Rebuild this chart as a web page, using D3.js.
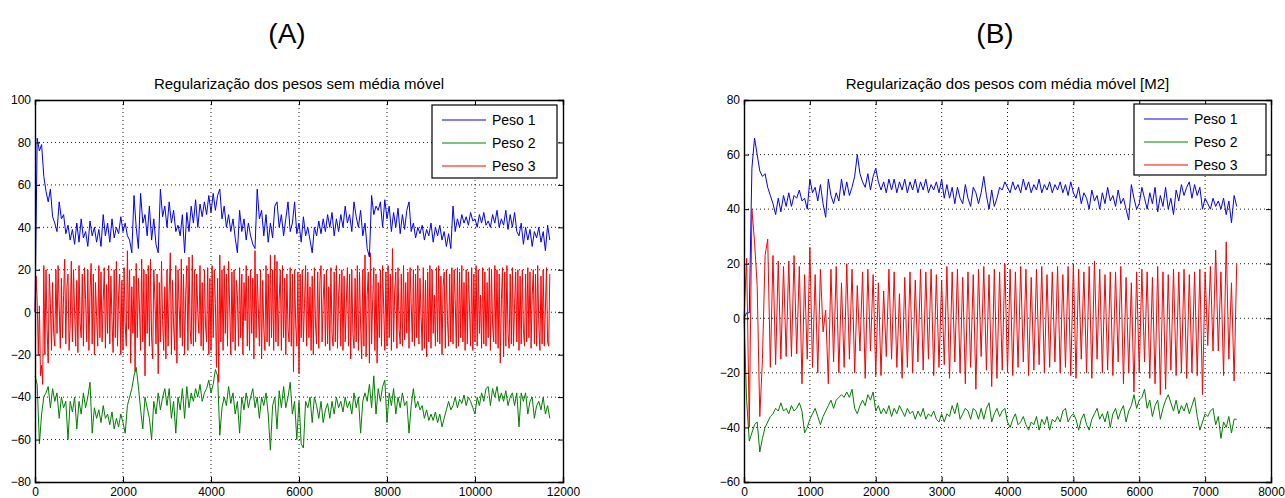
<!DOCTYPE html>
<html>
<head>
<meta charset="utf-8">
<script src="https://cdn.jsdelivr.net/npm/d3@7"></script>
<style>
  body { margin: 0; background: #fff; }
  svg { display: block; }
</style>
</head>
<body>
<svg id="chart" width="1285" height="498"></svg>
<script>
// sample spacing of the logged weights (iterations between samples)
const stepA = 50;
const stepA3 = 25;
const stepB = 40;

// Panel A: sem média móvel
const peso1A = [
  0, 82, 76, 79, 64, 57, 52, 58, 45, 42,
  38, 52, 44, 46, 37, 41, 34, 39, 32, 42,
  33, 44, 35, 38, 31, 43, 36, 40, 33, 39,
  31, 46, 36, 42, 33, 44, 35, 40, 37, 45,
  38, 42, 36, 34, 28, 55, 40, 30, 56, 42,
  46, 36, 50, 34, 44, 32, 28, 58, 45, 50,
  40, 52, 42, 48, 38, 41, 36, 46, 28, 47,
  38, 50, 42, 53, 40, 51, 45, 52, 46, 55,
  47, 56, 48, 55, 58, 44, 50, 40, 46, 38,
  44, 35, 28, 48, 38, 44, 34, 42, 36, 32,
  30, 58, 44, 48, 36, 46, 33, 42, 35, 50,
  52, 40, 46, 36, 44, 52, 38, 42, 52, 37,
  42, 33, 45, 36, 40, 34, 28, 40, 36, 43,
  37, 44, 38, 46, 40, 47, 36, 44, 38, 46,
  40, 50, 42, 46, 38, 52, 45, 40, 48, 36,
  42, 30, 26, 55, 46, 50, 48, 52, 40, 53,
  44, 50, 38, 47, 40, 49, 37, 46, 39, 48,
  52, 38, 42, 35, 40, 37, 41, 34, 39, 36,
  42, 33, 40, 36, 41, 34, 38, 31, 37, 30,
  50, 38, 44, 40, 46, 42, 45, 41, 47, 43,
  44, 40, 46, 42, 47, 41, 43, 40, 46, 42,
  48, 40, 44, 41, 48, 39, 46, 40, 47, 38,
  36, 42, 32, 40, 34, 39, 31, 38, 35, 40,
  33, 38, 29, 41, 34
];
const peso2A = [
  -30, -34, -62, -48, -40, -38, -35, -45, -36, -42,
  -38, -50, -40, -45, -42, -60, -42, -47, -40, -55,
  -42, -48, -38, -45, -40, -33, -57, -45, -50, -46,
  -52, -44, -50, -48, -53, -47, -55, -50, -54, -48,
  -52, -57, -44, -40, -36, -30, -26, -35, -46, -55,
  -40, -45, -50, -60, -42, -48, -38, -46, -40, -36,
  -44, -36, -50, -42, -57, -40, -46, -36, -50, -35,
  -45, -38, -42, -36, -40, -34, -42, -38, -36, -32,
  -38, -34, -27, -30, -58, -45, -40, -44, -35, -43,
  -38, -48, -42, -57, -40, -46, -38, -45, -40, -36,
  -45, -40, -50, -40, -44, -38, -48, -65, -44, -40,
  -55, -37, -45, -35, -45, -40, -33, -48, -42, -60,
  -42, -62, -64, -42, -45, -40, -52, -40, -44, -50,
  -42, -52, -46, -43, -50, -42, -48, -40, -45, -42,
  -47, -40, -45, -42, -48, -38, -45, -40, -57, -42,
  -38, -42, -34, -45, -30, -48, -36, -42, -35, -32,
  -52, -38, -44, -36, -48, -40, -45, -38, -44, -42,
  -57, -44, -36, -45, -42, -46, -44, -50, -46, -51,
  -48, -51, -47, -52, -48, -54, -50, -46, -42, -46,
  -44, -40, -45, -41, -43, -39, -44, -40, -42, -45,
  -48, -40, -44, -38, -42, -36, -35, -44, -36, -40,
  -35, -42, -38, -42, -37, -44, -40, -38, -44, -38,
  -54, -38, -42, -38, -48, -42, -40, -50, -44, -42,
  -46, -40, -48, -44, -50
];
const peso3A = [
  0, 17, 5, -20, 3, -30, -25, -34, 22, -20, 20, -8, -24, 18, 4, -18, 14, -10, -16, 20,
  -10, 22, 2, -17, 16, -12, 8, 25, -15, 12, 18, -18, -6, 24, -14, 20, 0, -16, 15, -19,
  22, -5, -12, 18, -16, 21, 6, -14, 20, -18, 10, 23, -15, 18, -20, 14, -2, -16, 22, -12,
  19, -14, 5, 21, -17, 13, -10, 22, -15, 17, -4, -19, 20, -12, 24, -16, 8, 18, -20, 15,
  -18, 21, -6, -16, 29, -8, 20, -24, 12, -10, 17, -28, 23, -12, 16, 2, -18, 25, -14, 20,
  -30, 18, -10, 22, -16, 25, -12, -22, 20, 6, -15, 18, -29, 14, -14, 24, -4, -18, 12, -22,
  20, -16, 10, 28, -20, 15, -6, -18, 22, -24, 20, 3, -12, 25, -16, 18, -20, 8, 22, -18,
  26, -8, -15, 27, -16, 20, -14, 18, 0, -10, 22, -16, 14, -18, 20, -6, -14, 21, -20, 16,
  -18, 22, -12, 20, 4, -26, 16, -33, 27, -14, 20, -18, 22, -10, 18, -16, 24, 2, -20, 19,
  -14, 20, -18, 15, 8, -16, 21, -12, 18, -20, 14, -4, 22, -16, 17, -18, 20, -10, 16, -22,
  29, -12, 18, 2, -16, 20, -22, 15, -8, -18, 22, -14, 18, -16, 27, -12, 20, -18, 27, -14,
  24, -16, 6, 20, -18, 22, -12, 16, -20, 18, -8, -14, 21, -16, 18, -28, 20, -6, -16, 19,
  -29, 18, -12, 20, -14, 4, 22, -16, 19, -12, 12, -18, 17, -20, 21, -6, -15, 19, -17, 15,
  22, -14, 6, 18, -16, 20, -15, 12, -18, 21, -10, -16, 19, -14, 22, -17, 8, 18, -16, 20,
  -18, 17, -14, 4, 21, -16, 18, -22, 20, -10, -17, 16, -14, 22, -18, 19, -6, -22, 20, -16,
  27, -21, 8, 19, -24, 28, -15, 6, 21, -18, 18, -24, 14, -12, 20, -16, 22, 2, -18, 19,
  -16, 22, -12, 18, -18, 30, -14, 10, 19, -17, 21, -8, -15, 18, -16, 22, -13, 14, -10, 19,
  -17, 21, 4, -14, 20, -16, 18, -12, 22, -15, 16, -2, -18, 21, -17, 15, -21, 19, -14, 22,
  -17, 20, -10, 8, -16, 21, -14, 22, -15, 17, -20, 12, 19, -17, 20, -4, -16, 18, -14, 21,
  -15, 20, 6, -17, 21, -16, 19, -12, 22, -14, 14, -18, 20, -15, 19, 2, -16, 21, -18, 18,
  -14, 22, -16, 20, -10, 8, -17, 21, -15, 19, -16, 14, -12, 21, -18, 20, -6, -14, 22, -15,
  20, -17, 18, -24, 6, 21, -21, 19, -16, 22, -10, -17, 18, -15, 21, -16, 4, 19, -14, 20,
  -18, 17, -15, 20, -8, -16, 18, -14, 21, -12, 19, -17, 8, 20, -15, 18, -16, 22, -6, -18,
  17, -15, 20, -16, 2, 21, -14, -16, 18
];

// Panel B: com média móvel [M2]
const peso1B = [
  0, 2, 2, 55, 66, 60, 54, 52, 53, 48,
  45, 42, 38, 44, 39, 45, 41, 46, 41, 45,
  44, 47, 43, 44, 40, 51, 46, 48, 43, 49,
  42, 37, 51, 45, 42, 46, 43, 51, 45, 50,
  45, 48, 52, 60, 53, 50, 48, 53, 47, 52,
  55, 50, 47, 50, 46, 51, 47, 51, 46, 50,
  47, 51, 46, 50, 47, 51, 46, 50, 47, 51,
  46, 49, 47, 50, 46, 51, 44, 49, 44, 48,
  42, 48, 44, 42, 49, 44, 41, 48, 46, 42,
  46, 52, 45, 40, 47, 41, 44, 48, 47, 50,
  48, 46, 50, 47, 49, 46, 51, 47, 50, 46,
  49, 47, 51, 46, 49, 47, 50, 46, 49, 47,
  50, 46, 49, 45, 50, 46, 44, 48, 42, 46,
  44, 40, 47, 43, 45, 40, 46, 42, 48, 43,
  45, 41, 47, 42, 44, 40, 36, 49, 44, 40,
  42, 48, 44, 40, 46, 42, 48, 39, 45, 41,
  48, 40, 44, 38, 47, 43, 49, 45, 48, 50,
  44, 49, 45, 48, 40, 44, 42, 40, 44, 41,
  43, 40, 44, 38, 43, 35, 45, 41
];
const peso2B = [
  0, -30, -45, -42, -39, -38, -49, -44, -40, -38,
  -36, -35, -33, -34, -31, -34, -33, -35, -32, -34,
  -33, -31, -34, -42, -40, -37, -35, -33, -36, -39,
  -36, -34, -32, -30, -33, -30, -29, -28, -29, -27,
  -29, -26, -33, -35, -32, -30, -32, -28, -30, -27,
  -34, -32, -35, -33, -35, -32, -36, -33, -35, -32,
  -34, -36, -33, -35, -34, -37, -34, -36, -33, -37,
  -35, -36, -34, -37, -38, -35, -38, -35, -36, -32,
  -35, -31, -37, -35, -33, -34, -37, -33, -34, -37,
  -33, -37, -33, -31, -38, -35, -33, -36, -34, -33,
  -38, -40, -37, -35, -39, -38, -36, -39, -41, -38,
  -39, -36, -41, -37, -39, -36, -41, -37, -38, -36,
  -38, -34, -33, -38, -36, -35, -37, -41, -37, -35,
  -39, -41, -37, -35, -33, -37, -35, -38, -34, -40,
  -35, -33, -37, -34, -32, -38, -34, -32, -28, -33,
  -30, -29, -26, -33, -30, -36, -32, -30, -37, -33,
  -30, -28, -31, -34, -30, -35, -32, -34, -31, -35,
  -32, -29, -36, -41, -38, -35, -36, -34, -33, -39,
  -36, -44, -38, -40, -36, -42, -37, -37
];
const peso3B = [
  0, 22, -40, 40, 28, 12, -36, -15, 23, 29,
  -18, 23, -17, 21, -15, 19, -14, 21, -14, 23,
  -13, 19, -24, 16, -15, 26, -18, 16, -20, 18,
  -5, 3, -24, 18, -16, 19, -20, 13, -18, 20,
  -15, 18, -20, 12, -12, 17, -22, 18, -12, 16,
  -21, 13, -21, 10, -14, 18, -15, 17, -18, 9,
  -22, 15, -18, 17, -20, 14, -16, 18, -19, 17,
  -15, 18, -21, 16, -18, 14, -17, 19, -22, 17,
  -16, 18, -20, 15, -24, 17, -18, 16, -26, 18,
  -14, 19, -19, 16, -25, 18, -22, 17, -19, 20,
  -20, 18, -21, 17, -18, 19, -16, 18, -21, 15,
  -19, 18, -17, 19, -20, 16, -18, 17, -16, 19,
  -20, 16, -18, 19, -21, 20, -22, 18, -15, 17,
  -20, 19, -22, 21, -15, 18, -20, 16, -19, 17,
  -21, 17, -16, 19, -24, 15, -20, 13, -27, 17,
  -20, 18, -16, 17, -22, 15, -24, 19, -28, 17,
  -26, 16, -19, 18, -21, 17, -20, 18, -22, 16,
  -20, 17, -21, 18, -28, 17, -10, 19, -12, 25,
  -12, 17, -21, 28, -15, 13, -23, 20
];

const xTicksA = [0, 2000, 4000, 6000, 8000, 10000, 12000];
const yTicksA = [-80, -60, -40, -20, 0, 20, 40, 60, 80, 100];
const xTicksB = [0, 1000, 2000, 3000, 4000, 5000, 6000, 7000, 8000];
const yTicksB = [-60, -40, -20, 0, 20, 40, 60, 80];

const seriesNames = ["Peso 1", "Peso 2", "Peso 3"];
const seriesColors = ["#0000ff", "#008000", "#ff0000"];

const svg = d3.select("#chart");
const font = "'Liberation Sans', Arial, Helvetica, sans-serif";
const fmt = d => d < 0 ? "\u2212" + Math.abs(d) : String(d);

drawPanel = (p) => {
  const x = d3.scaleLinear().domain(d3.extent(p.xTicks)).range([p.left, p.left + p.width]);
  const y = d3.scaleLinear().domain(d3.extent(p.yTicks)).range([p.top + p.height, p.top]);
  const g = svg.append("g");

  // panel letter
  g.append("text")
    .attr("x", p.labelX).attr("y", 43)
    .attr("text-anchor", "middle")
    .style("font", `28px ${font}`)
    .text(p.label);

  // title
  g.append("text")
    .attr("x", p.left + p.width / 2).attr("y", 89)
    .attr("text-anchor", "middle")
    .style("font", `15px ${font}`)
    .text(p.title);

  // dotted grid
  const grid = g.append("g")
    .attr("stroke", "#000")
    .attr("stroke-width", 0.9)
    .attr("stroke-dasharray", "1,3");
  grid.selectAll(".gx").data(p.xTicks.slice(1, -1)).join("line")
    .attr("x1", d => x(d)).attr("x2", d => x(d))
    .attr("y1", p.top).attr("y2", p.top + p.height);
  grid.selectAll(".gy").data(p.yTicks.slice(1, -1)).join("line")
    .attr("x1", p.left).attr("x2", p.left + p.width)
    .attr("y1", d => y(d)).attr("y2", d => y(d));

  // series, drawn in order so Peso 3 sits on top
  p.series.forEach((s, k) => {
    const line = d3.line()
      .x((d, i) => x(i * s.step))
      .y(d => y(d));
    g.append("path")
      .datum(s.values)
      .attr("fill", "none")
      .attr("stroke", seriesColors[k])
      .attr("stroke-width", 1)
      .attr("stroke-linejoin", "round")
      .attr("d", line);
  });

  // axes on all four sides, inward ticks
  const tick = 5;
  g.append("g")
    .attr("transform", `translate(0,${p.top + p.height})`)
    .call(d3.axisBottom(x).tickValues(p.xTicks).tickSize(-tick).tickPadding(5).tickFormat(fmt));
  g.append("g")
    .attr("transform", `translate(0,${p.top})`)
    .call(d3.axisTop(x).tickValues(p.xTicks).tickSize(-tick).tickFormat(""));
  g.append("g")
    .attr("transform", `translate(${p.left},0)`)
    .call(d3.axisLeft(y).tickValues(p.yTicks).tickSize(-tick).tickPadding(4).tickFormat(fmt));
  g.append("g")
    .attr("transform", `translate(${p.left + p.width},0)`)
    .call(d3.axisRight(y).tickValues(p.yTicks).tickSize(-tick).tickFormat(""));
  g.selectAll(".domain").attr("stroke", "#000").attr("stroke-width", 1.4);
  g.selectAll(".tick line").attr("stroke", "#000").attr("stroke-width", 1);
  g.selectAll(".tick text").style("font", `12px ${font}`).attr("fill", "#000");

  // legend
  const lg = g.append("g");
  lg.append("rect")
    .attr("x", p.legend.x).attr("y", p.legend.y)
    .attr("width", p.legend.w).attr("height", p.legend.h)
    .attr("fill", "#fff").attr("stroke", "#000").attr("stroke-width", 1.2);
  seriesNames.forEach((name, k) => {
    const yy = p.legend.y + 15 + k * 23;
    lg.append("line")
      .attr("x1", p.legend.x + 10).attr("x2", p.legend.x + 54)
      .attr("y1", yy).attr("y2", yy)
      .attr("stroke", seriesColors[k]).attr("stroke-width", 1);
    lg.append("text")
      .attr("x", p.legend.x + 60).attr("y", yy + 5)
      .style("font", `14px ${font}`)
      .text(name);
  });
};

drawPanel({
  label: "(A)", labelX: 287,
  title: "Regularização dos pesos sem média móvel",
  left: 35, top: 100, width: 528, height: 382,
  xTicks: xTicksA, yTicks: yTicksA,
  series: [
    { values: peso1A, step: stepA },
    { values: peso2A, step: stepA },
    { values: peso3A, step: stepA3 }
  ],
  legend: { x: 432, y: 105, w: 125, h: 73 }
});

drawPanel({
  label: "(B)", labelX: 995,
  title: "Regularização dos pesos com média móvel [M2]",
  left: 744, top: 100, width: 527, height: 382,
  xTicks: xTicksB, yTicks: yTicksB,
  series: [
    { values: peso1B, step: stepB },
    { values: peso2B, step: stepB },
    { values: peso3B, step: stepB }
  ],
  legend: { x: 1134, y: 104, w: 132, h: 71 }
});
</script>
</body>
</html>
